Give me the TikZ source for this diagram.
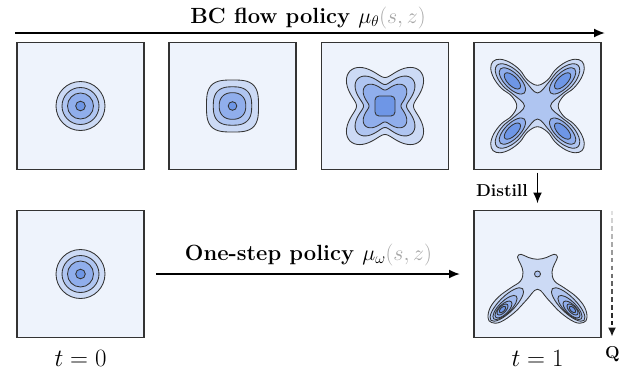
\documentclass[tikz,border=0pt]{standalone}
\usetikzlibrary{arrows.meta,calc}
\definecolor{bgc}{HTML}{EEF3FC}
\definecolor{ca}{HTML}{CCDAF5}
\definecolor{cb}{HTML}{AFC5F1}
\definecolor{cbb}{HTML}{9FB9EE}
\definecolor{cc}{HTML}{90AEEC}
\definecolor{ccd}{HTML}{7FA2E9}
\definecolor{cd}{HTML}{6E96E6}
\definecolor{sgray}{HTML}{A6A6A6}
\definecolor{edge}{HTML}{333333}
\tikzset{
  panel/.style={draw=edge, line width=1.3pt, fill=bgc, minimum width=127pt, minimum height=127pt, inner sep=0pt, outer sep=0pt},
  cont/.style={draw=edge, line width=0.85pt},
  flow/.style={line width=1.8pt, -{Latex[length=11pt,width=9pt]}},
  biglbl/.style={font=\huge\bfseries, inner sep=0pt, scale=1.06},
  smalllbl/.style={font=\LARGE\bfseries, inner sep=0pt},
  tlbl/.style={font=\Huge, inner sep=0pt}
}
% four elliptical lobes on the diagonals: #1 centre distance, #2 half length, #3 half width, #4 dip radius
\newcommand\lobeshape[4]{%
  \xdef\shapepts{}%
  \foreach \bt in {45,135,225,315}{%
    \foreach \al in {-120,-90,-60,-30,0,30,60,90,120}{%
      \pgfmathsetmacro\lsP{#1+#2*cos(\al)}%
      \pgfmathsetmacro\lsQ{#3*sin(\al)}%
      \pgfmathsetmacro\lsX{\lsP*cos(\bt)-\lsQ*sin(\bt)}%
      \pgfmathsetmacro\lsY{\lsP*sin(\bt)+\lsQ*cos(\bt)}%
      \xdef\shapepts{\shapepts (\lsX,\lsY)}%
    }%
    \pgfmathsetmacro\lsX{#4*cos(\bt+45)}%
    \pgfmathsetmacro\lsY{#4*sin(\bt+45)}%
    \xdef\shapepts{\shapepts (\lsX,\lsY)}%
  }%
}
\begin{document}
\begin{tikzpicture}[x=1pt,y=-1pt]
\useasboundingbox (0,0) rectangle (629,370);
% panels
\node[panel] (b1) at (80.5,106) {};
\node[panel] (b2) at (232.5,106) {};
\node[panel] (b3) at (385,106) {};
\node[panel] (b4) at (537.5,106) {};
\node[panel] (b5) at (80.5,274) {};
\node[panel] (b6) at (537.5,274) {};
% box 1 and box 5: concentric circles
\foreach \bx in {b1,b5}{
  \foreach \r/\c in {24.5/ca,18.5/cb,13/cc,4.8/cd}
    \draw[cont, fill=\c] (\bx.center) circle [radius=\r];
}
% box 2: squircles
\foreach \a/\n/\c in {26/3.2/ca, 19.2/2.7/cb, 13.3/2.3/cc}
  \draw[cont, fill=\c, shift={(b2.center)}] plot[smooth cycle, domain=0:354, samples=60]
    (\x:{\a/((abs(cos(\x))+0.0001)^\n+(abs(sin(\x))+0.0001)^\n)^(1/\n)});
\draw[cont, fill=cd] (b2.center) circle [radius=4.3];
% box 3: four-lobed
\foreach \a/\b/\c in {39/10.5/ca, 30/8.5/cb, 22/6/cc}
  \draw[cont, fill=\c, shift={(b3.center)}] plot[smooth cycle, domain=0:357, samples=120]
    (\x:{\a-\b*cos(4*\x)});
\draw[cont, fill=cd, rounded corners=4pt] ($(b3.center)+(-10,-10)$) rectangle ($(b3.center)+(10,10)$);
% box 4: X shape with elliptical lobes
\lobeshape{38}{25}{13}{20.7}
\edef\drawtmp{\noexpand\draw[cont, fill=ca, shift={(b4.center)}] plot[smooth cycle, tension=0.6] coordinates {\shapepts};}\drawtmp
\lobeshape{36}{21.5}{10.3}{13}
\edef\drawtmp{\noexpand\draw[cont, fill=cb, shift={(b4.center)}] plot[smooth cycle, tension=0.6] coordinates {\shapepts};}\drawtmp
\foreach \ang in {45,135,225,315}{
  \draw[cont, fill=cc, shift={(b4.center)}, rotate=\ang] (35.5,0) ellipse [x radius=17, y radius=7.6];
  \draw[cont, fill=cd, shift={(b4.center)}, rotate=\ang] (35.5,0) ellipse [x radius=10.5, y radius=4.8];
}
% box 6: distilled
\draw[cont, fill=ca, shift={(b6.center)}] plot[smooth cycle, tension=0.65] coordinates {
  (0,-14.7) (9,-16.5) (16.5,-19.7) (20,-17) (17,-10) (14.5,-2) (17,7) (27,14) (38.5,22.5) (47,33)
  (49.5,43.5) (46,48.5) (37,48) (23,38.5) (11,26) (0,15.3)
  (-11,26) (-23,38.5) (-37,48) (-46,48.5) (-49.5,43.5) (-47,33) (-38.5,22.5) (-27,14) (-17,7)
  (-14.5,-2) (-17,-10) (-20,-17) (-16.5,-19.7) (-9,-16.5)};
\foreach \sx/\rot in {-1/45, 1/-45}{
  \foreach \dx/\dy/\ra/\rb/\c in {30.7/30.5/22.4/7.8/cb, 32.5/33.5/16/6/cbb, 34/35.5/11/4.8/cc, 35/35.5/7/3.4/ccd, 35/35.5/4/2.1/cd}
    \draw[cont, fill=\c, shift={($(b6.center)+(\sx*\dx,\dy)$)}, rotate=\rot] (0,0) ellipse [x radius=\ra, y radius=\rb];
}
\draw[cont, fill=cb] (b6.center) circle [radius=3];
% arrows
\coordinate (ts) at (15,33);
\coordinate (te) at (605,33);
\draw[flow] (ts) -- (te);
\node[biglbl, anchor=base] (title) at (308,23.3) {BC flow policy $\mu_\theta{\color{sgray}(s, z)}$};
\draw[flow, shorten <=12pt, shorten >=14pt] (b5) -- (b6);
\node[biglbl, anchor=base] (onestep) at (308.5,260) {One-step policy $\mu_\omega{\color{sgray}(s, z)}$};
\draw[flow, shorten <=3pt, shorten >=7pt] (b4) -- (b6);
\node[smalllbl, anchor=base east] (distill) at (528,196.5) {Distill};
% Q arrow
\coordinate (qa) at ($(b6.north east)+(11,0)$);
\coordinate (qb) at ($(b6.south east)+(11,-1)$);
\foreach \i in {0,...,14}{
  \pgfmathsetmacro\pc{12+5.5*\i}
  \draw[line width=1.5pt, draw=black!\pc] ($(qa)!{\i/16}!(qb)$) -- ($(qa)!{(\i+0.6)/16}!(qb)$);
}
\draw[line width=1.5pt, draw=black!90, -{Latex[length=9pt,width=8pt]}] ($(qa)!{15/16}!(qb)$) -- (qb);
\node[smalllbl, anchor=base] (q) at (612.5,358.5) {Q};
% time labels
\node[tlbl, anchor=base] (t0) at (80.5,366) {$t=0$};
\node[tlbl, anchor=base] (t1) at (537.5,366) {$t=1$};
\end{tikzpicture}
\end{document}
